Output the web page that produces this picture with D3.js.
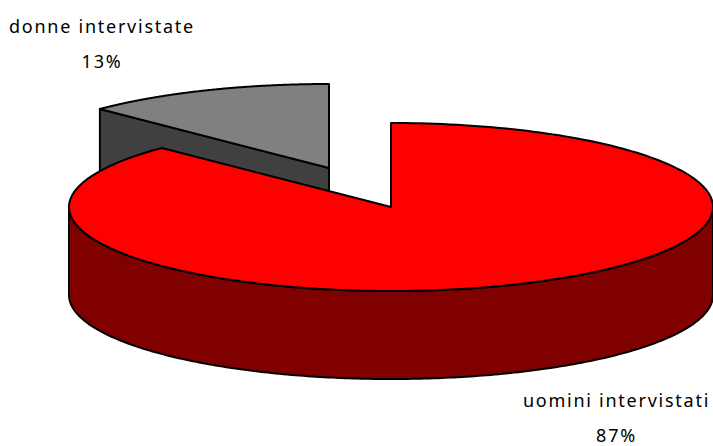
<!DOCTYPE html>
<html><head><meta charset="utf-8">
<script src="https://cdn.jsdelivr.net/npm/d3@7"></script>
<style>html,body{margin:0;padding:0;background:#fff}svg{display:block}text{font-family:"Noto Sans",sans-serif;font-size:18px;letter-spacing:1.75px;fill:#000}</style>
</head><body><svg id="c" width="713" height="446"></svg>
<script>
const categories = ["uomini intervistati", "donne intervistate"];
const seriesValues = [87.4, 12.6];
const percentLabels = ["87%", "13%"];
const sliceColors = ["#ff0000", "#808080"];
const wallColors = ["#800000", "#404040"];
const explode = [[0, 0], [-62, -39]];
const labelPos = [[616.5, 407, 442], [102, 33, 68]];

const svg = d3.select("#c");
const cx = 391, cy = 207, rx = 322, ry = 84, depth = 88;
const xS = d3.scaleLinear().domain([-1, 1]).range([cx - rx, cx + rx]);
const yS = d3.scaleLinear().domain([-1, 1]).range([cy - ry, cy + ry]);
const arcs = d3.pie().sort(null).value(d => d)(seriesValues);
const line = d3.line();
const pt = (a, o, dz = 0) => [xS(Math.sin(a)) + o[0], yS(-Math.cos(a)) + o[1] + dz];
const rim = (a0, a1, o, dz = 0) => d3.range(0, 241).map(i => pt(a0 + (a1 - a0) * i / 240, o, dz));
const stroke = s => s.attr("stroke", "#000").attr("stroke-width", 2).attr("stroke-linejoin", "round");

function drawSlice(i) {
  const a = arcs[i], o = explode[i], c = [xS(0) + o[0], yS(0) + o[1]];
  const w0 = Math.max(a.startAngle, Math.PI / 2), w1 = Math.min(a.endAngle, 3 * Math.PI / 2);
  if (w1 > w0) {
    const wall = rim(w0, w1, o).concat(rim(w1, w0, o, depth));
    stroke(svg.append("path").attr("d", line(wall) + "Z").attr("fill", wallColors[i]));
  }
  if (i === 1) {
    const s = pt(a.startAngle, o), e = pt(a.endAngle, o);
    const face = [s, c, [c[0], c[1] + depth], [s[0], s[1] + depth]];
    stroke(svg.append("path").attr("d", line(face) + "Z").attr("fill", wallColors[i]));
    const face2 = [e, c, [c[0], c[1] + depth]];
    stroke(svg.append("path").attr("d", line(face2)).attr("fill", "none"));
  }
  const top = [c].concat(rim(a.startAngle, a.endAngle, o));
  stroke(svg.append("path").attr("d", line(top) + "Z").attr("fill", sliceColors[i]));
}
drawSlice(1);
drawSlice(0);

categories.forEach((t, i) => {
  const [x, y1, y2] = labelPos[i];
  svg.append("text").attr("x", x).attr("y", y1).attr("text-anchor", "middle").text(t);
  svg.append("text").attr("x", x).attr("y", y2).attr("text-anchor", "middle").text(percentLabels[i]);
});
</script></body></html>
